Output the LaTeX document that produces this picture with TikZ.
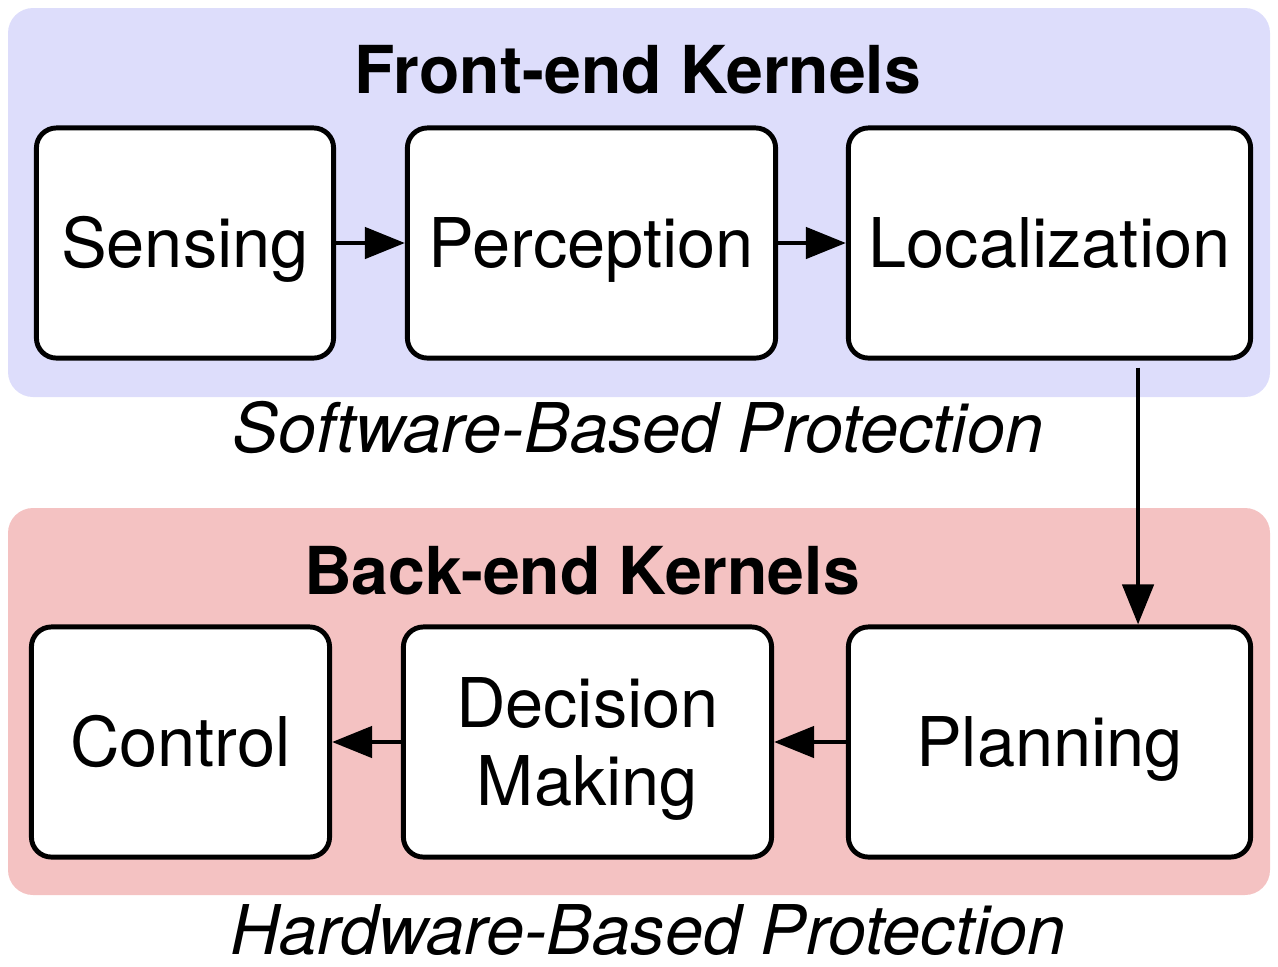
\documentclass[tikz,border=0pt]{standalone}
\usepackage{fontspec}
\setmainfont{TeX Gyre Heros}
\usepackage{tikz}
\usetikzlibrary{arrows.meta}
\definecolor{frontbg}{RGB}{221,221,251}
\definecolor{backbg}{RGB}{244,194,194}

\begin{document}
\begin{tikzpicture}[x=0.01cm, y=-0.01cm,
    kernel/.style={draw, line width=1.4pt, rounded corners=0.2cm, fill=white, minimum height=2.3cm, align=center, text height=14pt, text depth=0pt, font=\fontsize{19.5}{22}\selectfont},
    region/.style={rounded corners=0.25cm},
    flow/.style={-{Triangle[length=0.4cm, width=0.31cm]}, line width=1.3pt},
    heading/.style={inner sep=0pt, text height=13.5pt, text depth=0pt, font=\fontsize{18.8}{22}\selectfont\bfseries},
    note/.style={inner sep=0pt, text height=14pt, text depth=0pt, font=\fontsize{19.5}{22}\selectfont\itshape}]
    \useasboundingbox (0,0) rectangle (1278,966);

    % Draw the two shaded regions
    \fill[frontbg, region] (8,8) rectangle (1270,397);
    \fill[backbg, region] (8,508) rectangle (1270,895);

    % Front-end kernels
    \node[kernel, minimum width=2.97cm] (Sensing) at (185,243) {Sensing};
    \node[kernel, minimum width=3.68cm] (Perception) at (591.5,243) {Perception};
    \node[kernel, minimum width=4.02cm] (Localization) at (1049.5,243) {Localization};

    % Back-end kernels
    \node[kernel, minimum width=2.98cm] (Control) at (180.5,742) {Control};
    \node[kernel, minimum width=3.68cm, text height=, text depth=] (Decision) at (587.5,742) {Decision\\Makin\smash{g}};
    \node[kernel, minimum width=4.02cm] (Planning) at (1049.5,742) {Planning};

    % Titles and protection labels
    \node[heading] (FrontTitle) at (638,70) {Front-end Kernels};
    \node[note] (SoftNote) at (638,428) {Software-Based Protection};
    \node[heading] (BackTitle) at (582,571) {Back-end Kernels};
    \node[note] (HardNote) at (648,930) {Hardware-Based Protection};

    % Connect the kernels
    \foreach \a/\b in {Sensing/Perception, Perception/Localization, Planning/Decision, Decision/Control}
        \draw[flow] (\a) -- (\b);
    \draw[flow, shorten <=0.07cm] ([xshift=0.885cm]Localization.south) -- ([xshift=0.885cm]Planning.north);
\end{tikzpicture}
\end{document}
